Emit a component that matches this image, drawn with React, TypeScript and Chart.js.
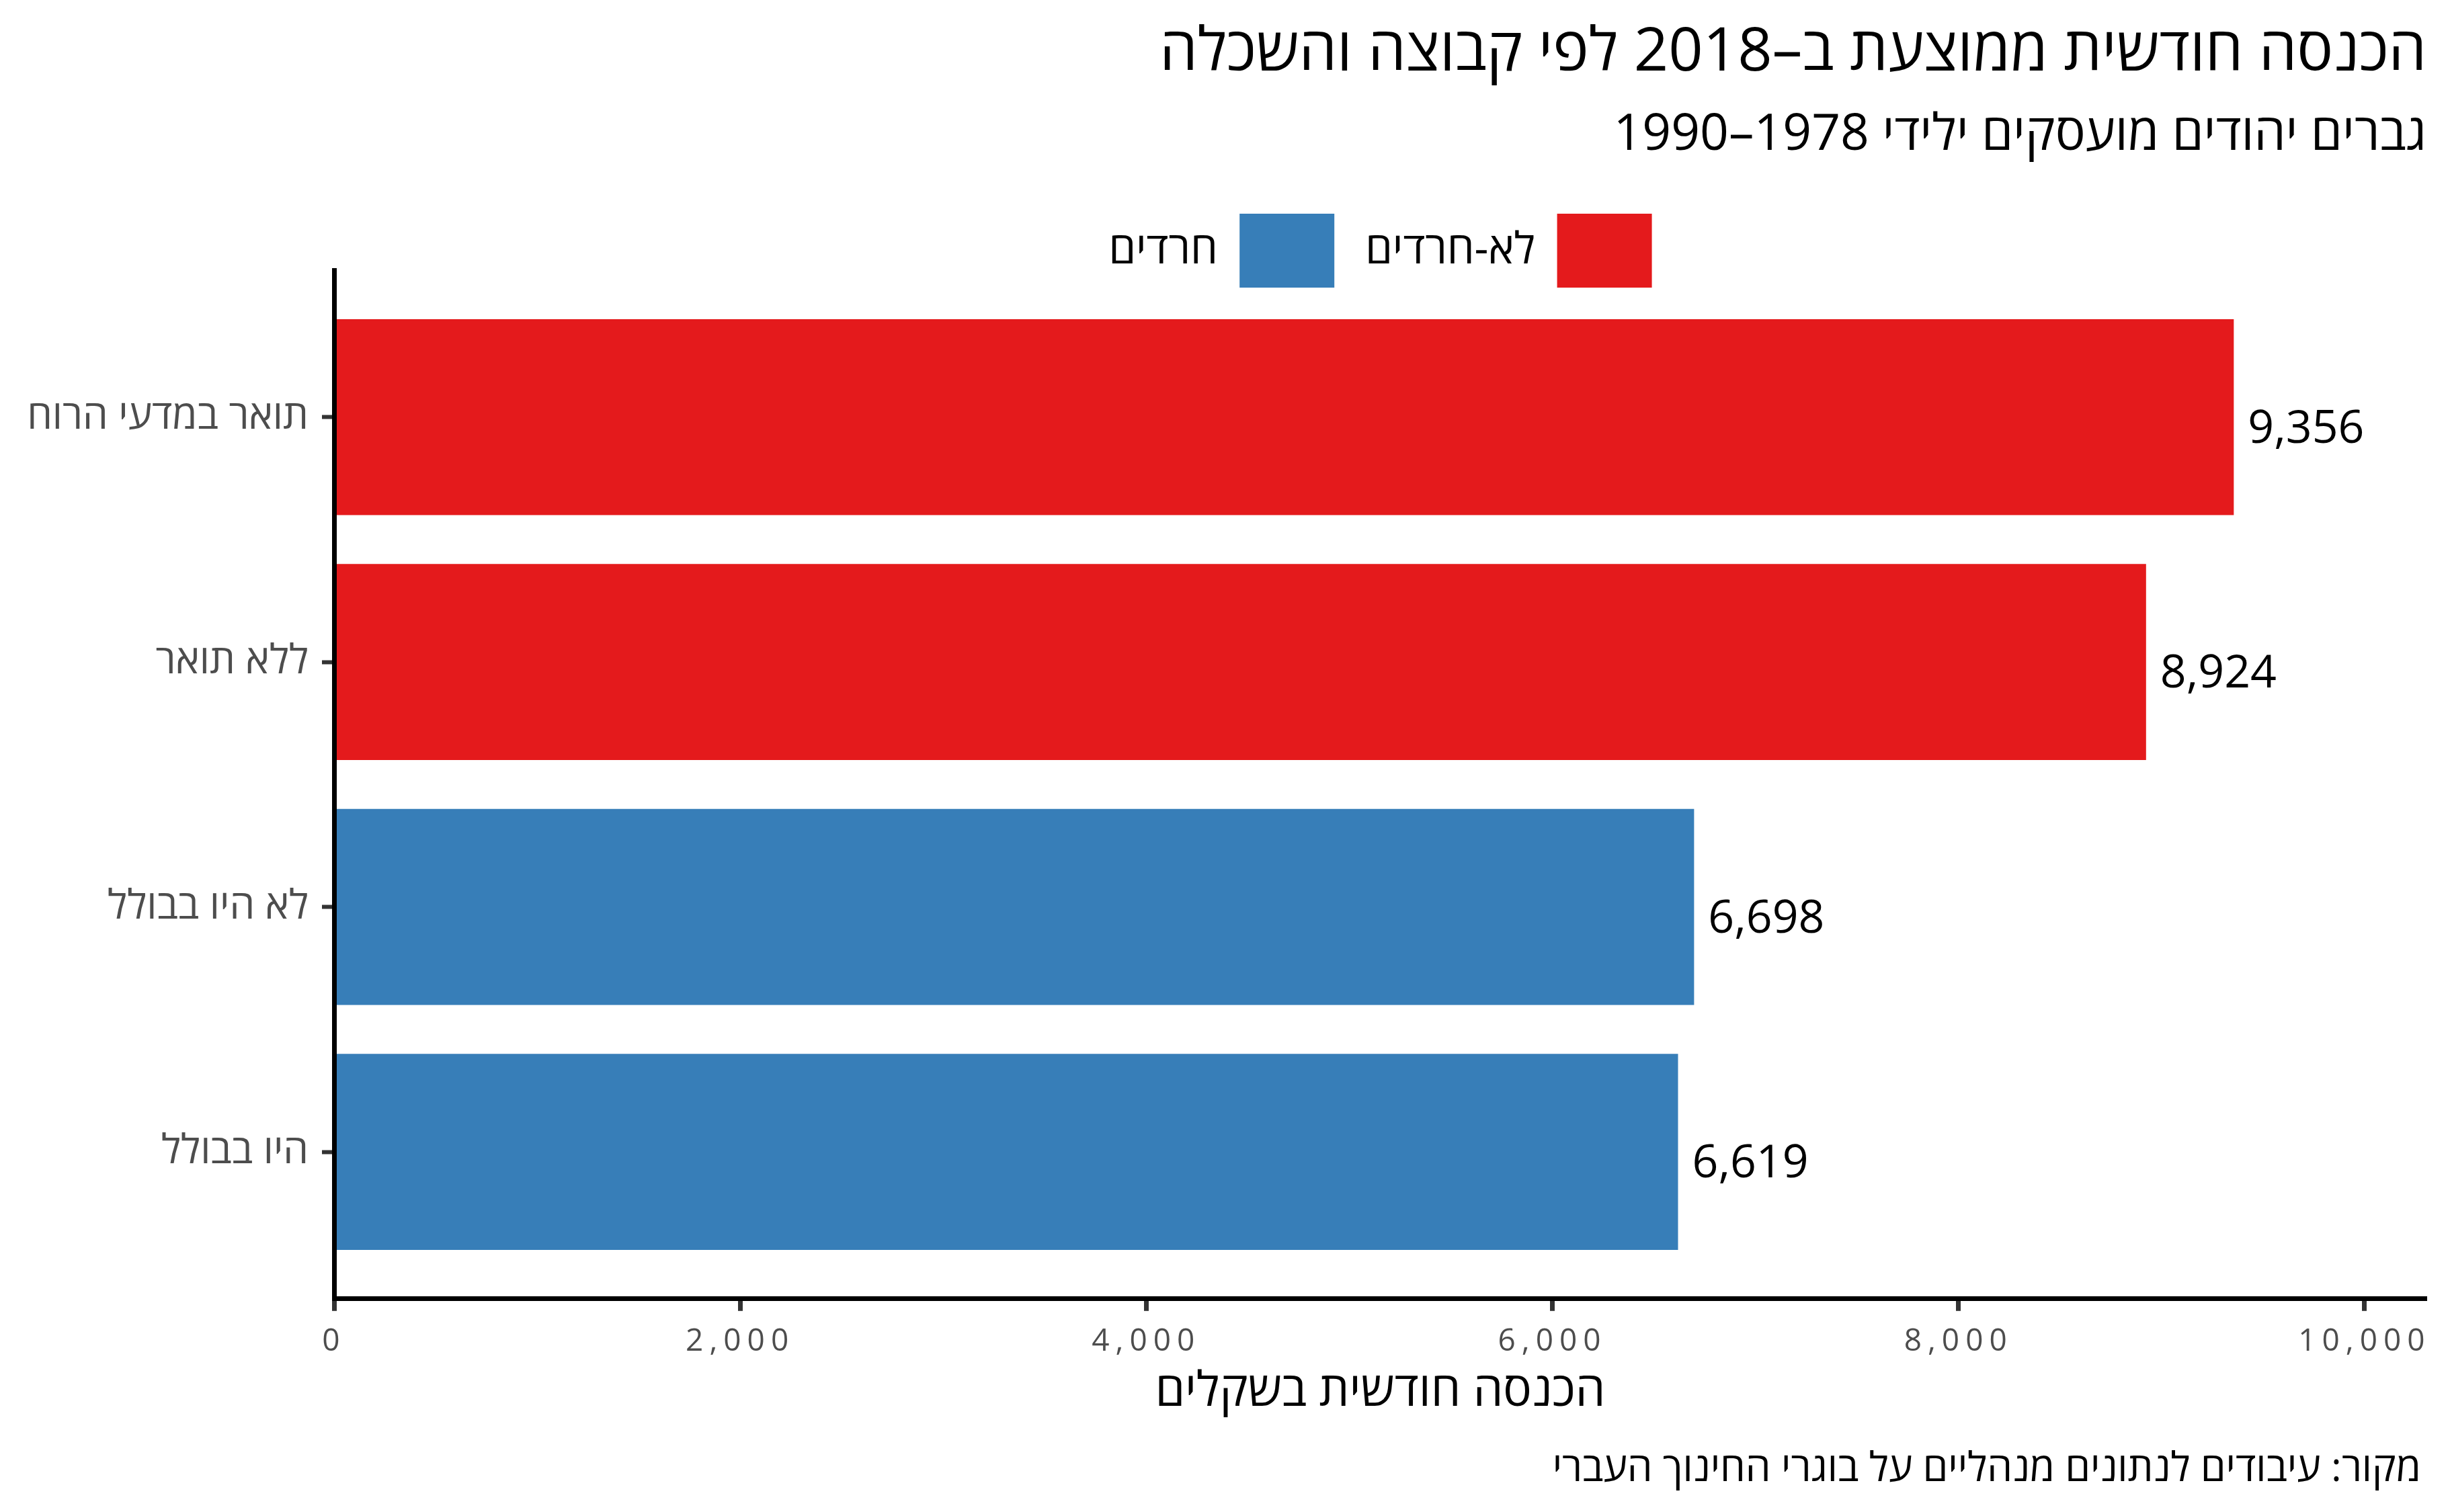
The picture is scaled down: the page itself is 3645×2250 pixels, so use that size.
import { useEffect, useRef } from 'react';
import Chart from 'chart.js/auto';

// data
const categories = ['תואר במדעי הרוח', 'ללא תואר', 'לא היו בבולל', 'היו בבולל'];
const incomes = [9356, 8924, 6698, 6619];
const groupOf = ['לא-חרדים', 'לא-חרדים', 'חרדים', 'חרדים'];
const groups = ['לא-חרדים', 'חרדים'];
const groupColors = ['#E41A1C', '#377EB8'];
const xTicks = [0, 2000, 4000, 6000, 8000, 10000];

const titleText = 'הכנסה חודשית ממוצעת ב–2018 לפי קבוצה והשכלה';
const subtitleText = 'גברים יהודים מועסקים ילידי 1978–1990';
const xTitle = 'הכנסה חודשית בשקלים';
const captionText = 'מקור: עיבודים לנתונים מנהליים על בוגרי החינוך העברי';

const FONT = "'Open Sans', 'DejaVu Sans', sans-serif";
const fmt = (v: number) => v.toLocaleString('en-US');

// value labels next to the bars + caption under the plot
const labelsPlugin = {
  id: 'barLabels',
  afterLayout(chart: any) {
    // legend keys reach a little into the plot area, don't clip them
    if (chart.legend) chart.legend.bottom = chart.chartArea.top + 60;
  },
  afterDatasetsDraw(chart: any) {
    const { ctx } = chart;
    ctx.save();
    ctx.font = `68px ${FONT}`;
    ctx.fillStyle = '#000';
    ctx.textAlign = 'left';
    ctx.textBaseline = 'alphabetic';
    chart.data.datasets.forEach((ds: any, di: number) => {
      chart.getDatasetMeta(di).data.forEach((bar: any, i: number) => {
        ctx.fillText(fmt(ds.data[i].x), bar.x + 21, bar.y + 38);
      });
    });
    ctx.restore();
    // x tick labels are drawn after the datasets, a bit spaced out
    ctx.letterSpacing = '9px';
  },
  afterDraw(chart: any) {
    const { ctx } = chart;
    ctx.letterSpacing = '0px';
    ctx.save();
    ctx.font = `60px ${FONT}`;
    ctx.fillStyle = '#000';
    ctx.textAlign = 'right';
    ctx.textBaseline = 'alphabetic';
    ctx.fillText(captionText, chart.width - 43, 2204);
    ctx.restore();
  },
};

export default function App() {
  const chartRef = useRef<HTMLCanvasElement>(null);
  const chartInstance = useRef<Chart | null>(null);

  useEffect(() => {
    if (!chartRef.current) return;
    document.body.style.margin = '0';

    if (chartInstance.current) {
      chartInstance.current.destroy();
    }

    const datasets = groups.map((g, gi) => ({
      label: g,
      backgroundColor: groupColors[gi],
      borderWidth: 0,
      barPercentage: 0.8,
      categoryPercentage: 1,
      grouped: false,
      data: categories
        .map((_, i) => i)
        .filter((i) => groupOf[i] === g)
        .map((i) => ({ x: incomes[i], y: i })),
    }));

    chartInstance.current = new Chart(chartRef.current, {
      type: 'bar',
      data: { datasets },
      plugins: [labelsPlugin],
      options: {
        indexAxis: 'y',
        animation: false,
        responsive: true,
        maintainAspectRatio: false,
        devicePixelRatio: 1,
        events: [],
        layout: { padding: { top: 0, right: 35, bottom: 143, left: 0 } },
        plugins: {
          tooltip: { enabled: false },
          title: {
            display: true,
            text: titleText,
            align: 'end',
            color: '#000',
            font: { family: FONT, size: 90, weight: 'normal', lineHeight: 1.2 },
            padding: { top: 25, bottom: 0 },
          },
          subtitle: {
            display: true,
            text: subtitleText,
            align: 'end',
            color: '#000',
            font: { family: FONT, size: 75, weight: 'normal', lineHeight: 1.2 },
            padding: { top: 24, bottom: 25 },
          },
          legend: {
            position: 'top',
            align: 'center',
            fullSize: false,
            rtl: true,
            textDirection: 'rtl',
            maxHeight: 130,
            labels: {
              boxWidth: 141,
              boxHeight: 110,
              padding: 46,
              color: '#000',
              font: { family: FONT, size: 65 },
            },
          },
        },
        scales: {
          x: {
            type: 'linear',
            min: 0,
            max: 10305,
            afterBuildTicks: (scale: any) => {
              scale.ticks = xTicks.map((v) => ({ value: v }));
            },
            grid: {
              display: true,
              drawOnChartArea: false,
              drawTicks: true,
              tickLength: 18,
              tickWidth: 7,
              tickColor: '#333333',
            },
            border: { display: true, color: '#000', width: 7, z: 1 },
            ticks: {
              z: 1,
              padding: 18,
              color: '#4d4d4d',
              font: { family: FONT, size: 46 },
              maxRotation: 0,
              callback: (v: any) => fmt(Number(v)),
            },
            title: {
              display: true,
              text: xTitle,
              color: '#000',
              font: { family: FONT, size: 71, lineHeight: 1 },
              padding: { top: -6, bottom: 0 },
            },
          },
          y: {
            type: 'linear',
            min: -0.6,
            max: 3.6,
            reverse: true,
            offset: false,
            afterBuildTicks: (scale: any) => {
              scale.ticks = categories.map((_, i) => ({ value: i }));
            },
            afterFit: (scale: any) => {
              scale.width = 497;
            },
            grid: {
              display: true,
              offset: false,
              drawOnChartArea: false,
              drawTicks: true,
              tickLength: 18,
              tickWidth: 6,
              tickColor: '#333333',
            },
            border: { display: true, color: '#000', width: 7, z: 1 },
            ticks: {
              padding: 20,
              color: '#4d4d4d',
              font: { family: FONT, size: 60 },
              callback: (v: any) => categories[Number(v)] ?? '',
            },
          },
        },
      },
    } as any);

    return () => {
      if (chartInstance.current) {
        chartInstance.current.destroy();
        chartInstance.current = null;
      }
    };
  }, []);

  return (
    <div style={{ width: 3645, height: 2250, position: 'relative' }}>
      <canvas ref={chartRef}></canvas>
    </div>
  );
}
